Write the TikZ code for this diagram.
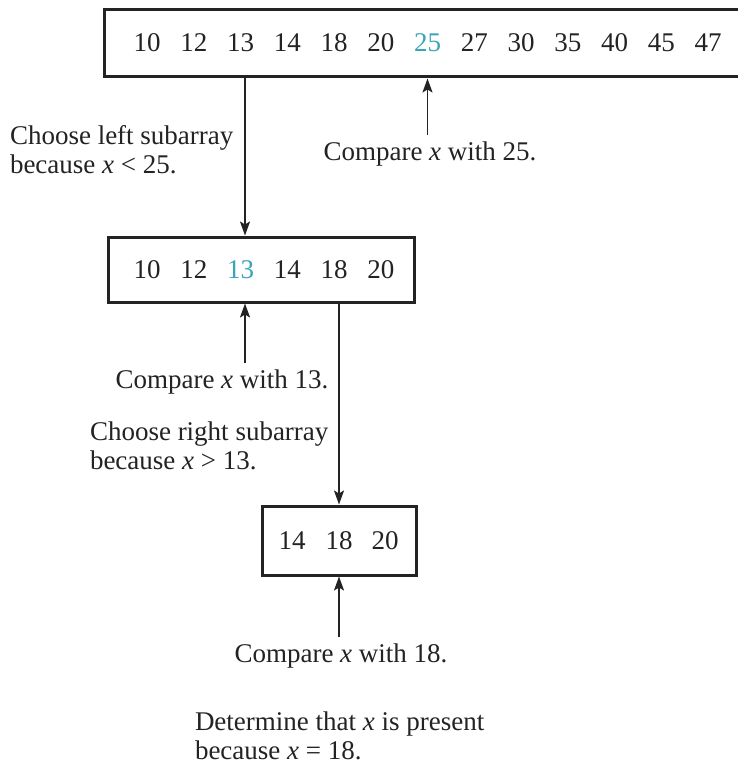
\documentclass[tikz,border=0pt]{standalone}
\usepackage{fontspec}
\setmainfont{Liberation Serif}
\usetikzlibrary{arrows.meta}
\definecolor{ink}{RGB}{35,35,35}
\definecolor{hilite}{RGB}{58,165,185}
\begin{document}
\begin{tikzpicture}[x=1pt,y=-1pt,
  every node/.style={inner sep=0pt, outer sep=0pt, text=ink},
  arraybox/.style={draw=ink, line width=3pt, rectangle, outer sep=1.5pt},
  num/.style={anchor=base, font=\fontsize{27}{30}\selectfont},
  hot/.style={num, text=hilite},
  note/.style={font=\fontsize{27}{28.5}\selectfont, align=left},
  link/.style={draw=ink, line width=1.8pt, -{Stealth[length=14pt,width=10pt,inset=3pt]}}]
\useasboundingbox (0,0) rectangle (738,765);
\fill[white] (0,0) rectangle (738,765);
\clip (0,0) rectangle (738,765);

% the three arrays being searched
\node[arraybox, minimum width=660pt, minimum height=67pt] (full) at (434,43.5) {};
\node[arraybox, minimum width=306pt, minimum height=65pt] (left) at (261,269.5) {};
\node[arraybox, minimum width=154pt, minimum height=69pt] (right) at (339,540.5) {};

% full array
\node[num] (a10) at (147,52) {10};
\node[num] (a12) at (193.75,52) {12};
\node[num] (a13) at (240.5,52) {13};
\node[num] (a14) at (287.25,52) {14};
\node[num] (a18) at (334,52) {18};
\node[num] (a20) at (380.75,52) {20};
\node[hot] (a25) at (427.5,52) {25};
\node[num] (a27) at (474.25,52) {27};
\node[num] (a30) at (521,52) {30};
\node[num] (a35) at (567.75,52) {35};
\node[num] (a40) at (614.5,52) {40};
\node[num] (a45) at (661.25,52) {45};
\node[num] (a47) at (708,52) {47};

% left half
\node[num] (b10) at (147,278) {10};
\node[num] (b12) at (193.75,278) {12};
\node[hot] (b13) at (240.5,278) {13};
\node[num] (b14) at (287.25,278) {14};
\node[num] (b18) at (334,278) {18};
\node[num] (b20) at (380.75,278) {20};

% right part of the left half
\node[num] (c14) at (292,549) {14};
\node[num] (c18) at (339,549) {18};
\node[num] (c20) at (385,549) {20};

% explanations (two-line notes are placed by the baseline of their last line)
\node[note, anchor=base west] (why1) at (10,173) {Choose left subarray\\because \textit{x} < 25.};
\node[note, anchor=base] (cmp25) at (430,160) {Compare \textit{x} with 25.};
\node[note, anchor=base] (cmp13) at (222,388) {Compare \textit{x} with 13.};
\node[note, anchor=base west] (why2) at (90,469) {Choose right subarray\\because \textit{x} > 13.};
\node[note, anchor=base] (cmp18) at (341,662) {Compare \textit{x} with 18.};
\node[note, anchor=base west] (done) at (195,759) {Determine that \textit{x} is present\\because \textit{x} = 18.};

% connectors
\coordinate (p1) at (245,0);
\draw[link] (full.south -| p1) -- (left.north -| p1);
\draw[link, shorten <=6pt] (cmp25.north -| a25) -- (full.south -| a25);
\draw[link, shorten <=6pt] (cmp13.north -| p1) -- (left.south -| p1);
\coordinate (p2) at (339,0);
\draw[link] (left.south -| p2) -- (right.north -| p2);
\draw[link, shorten <=6pt] (cmp18.north -| p2) -- (right.south -| p2);
\end{tikzpicture}
\end{document}
